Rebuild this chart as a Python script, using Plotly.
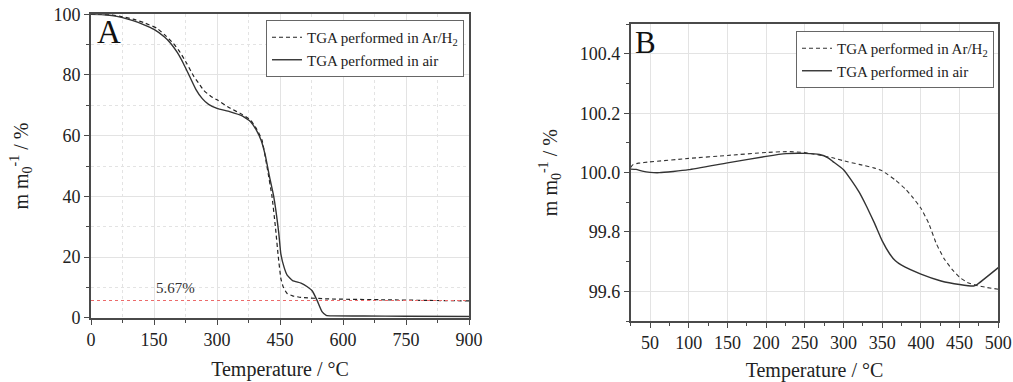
import plotly.graph_objects as go

# ---------------- Panel A data ----------------
a_air_x = [0, 25, 50, 75, 100, 125, 150, 175, 190, 205, 220, 235, 250, 265, 280, 300, 330, 360, 380,
           395, 405, 415, 425, 435, 447, 452, 460, 467, 480, 500, 515, 527, 538, 550, 560, 575, 650, 750, 900]
a_air_y = [100, 99.95, 99.6, 98.9, 97.9, 96.6, 95.0, 92.5, 90.4, 87.5, 83.8, 79.5, 75.2, 72.2, 70.3, 69.0,
           67.9, 66.5, 64.6, 61.5, 58.5, 53.5, 46.5, 40.0, 28.0, 21.0, 16.5, 14.0, 12.2, 11.4, 10.2, 8.8,
           5.8, 2.0, 0.8, 0.6, 0.55, 0.5, 0.4]

a_arh_x = [0, 25, 50, 75, 100, 125, 157, 175, 196, 212, 228, 245, 258, 268, 285, 300, 332, 360, 380,
           395, 407, 419, 431, 439, 446, 452, 458, 467, 480, 500, 563, 700, 800, 900]
a_arh_y = [100, 99.97, 99.8, 99.2, 98.4, 97.3, 95.4, 93.3, 90.4, 87.5, 83.8, 79.5, 77.0, 75.0, 73.0, 71.8,
           69.0, 67.0, 65.1, 62.0, 58.6, 49.8, 39.9, 30.0, 20.0, 13.0, 10.0, 8.0, 7.2, 6.7, 6.2, 5.9, 5.7, 5.55]

residue_x = [0, 900]
residue_y = [5.67, 5.67]

# ---------------- Panel B data ----------------
b_air_x = [25, 32, 40, 50, 62, 80, 100, 150, 200, 226, 250, 269, 280, 286, 300, 310, 320, 330, 340, 350,
           360, 367, 375, 400, 426, 450, 468, 472, 500]
b_air_y = [100.012, 100.011, 100.005, 100.001, 100.0, 100.004, 100.010, 100.033, 100.055, 100.064, 100.065,
           100.061, 100.05, 100.038, 100.01, 99.975, 99.935, 99.885, 99.83, 99.77, 99.725, 99.703, 99.688,
           99.658, 99.635, 99.623, 99.618, 99.622, 99.68]

b_arh_x = [25, 28, 35, 49, 100, 150, 200, 226, 250, 286, 300, 320, 339, 350, 367, 380, 390, 400, 410, 420,
           430, 440, 450, 460, 472, 485, 500]
b_arh_y = [100.018, 100.027, 100.032, 100.036, 100.048, 100.058, 100.068, 100.071, 100.068, 100.05, 100.04,
           100.028, 100.016, 100.006, 99.975, 99.945, 99.915, 99.88, 99.83, 99.76, 99.71, 99.675, 99.647,
           99.63, 99.62, 99.613, 99.607]

name_arh = "TGA performed in Ar/H<sub>2</sub>"
name_air = "TGA performed in air"

FONT = "Liberation Serif"
LINE = "#333333"
DASH = "4px,3px"

fig = go.Figure()

fig.add_trace(go.Scatter(x=a_arh_x, y=a_arh_y, mode="lines", name=name_arh,
                         line=dict(color="#222222", width=1.2, dash=DASH, shape="spline", smoothing=0.4),
                         xaxis="x", yaxis="y", legend="legend"))
fig.add_trace(go.Scatter(x=a_air_x, y=a_air_y, mode="lines", name=name_air,
                         line=dict(color=LINE, width=1.4, shape="spline", smoothing=0.4),
                         xaxis="x", yaxis="y", legend="legend"))
fig.add_trace(go.Scatter(x=residue_x, y=residue_y, mode="lines", showlegend=False,
                         line=dict(color="#ec6a6a", width=1.2, dash="dot"),
                         xaxis="x", yaxis="y"))

fig.add_trace(go.Scatter(x=b_arh_x, y=b_arh_y, mode="lines", name=name_arh,
                         line=dict(color="#333333", width=1.1, dash=DASH, shape="spline", smoothing=0.4),
                         xaxis="x2", yaxis="y2", legend="legend2"))
fig.add_trace(go.Scatter(x=b_air_x, y=b_air_y, mode="lines", name=name_air,
                         line=dict(color=LINE, width=1.4, shape="spline", smoothing=0.4),
                         xaxis="x2", yaxis="y2", legend="legend2"))

W, H = 1013, 382

axis_common = dict(showline=True, mirror=True, linecolor="#4a4a4a", linewidth=1.6,
                   ticks="outside", ticklen=5, tickwidth=1.3, tickcolor="#4a4a4a",
                   tickfont=dict(family=FONT, size=18, color="#222222"),
                   showgrid=True, gridcolor="#e3e3e3", gridwidth=1, zeroline=False,
                   automargin=False)

title_font = dict(family=FONT, size=20, color="#222222")

fig.update_layout(
    width=W, height=H,
    margin=dict(l=0, r=0, t=0, b=0),
    paper_bgcolor="white", plot_bgcolor="white",
    font=dict(family=FONT, color="#222222"),
    xaxis=dict(axis_common, domain=[91 / W, 469 / W], range=[0, 900],
               tickvals=[0, 150, 300, 450, 600, 750, 900],
               minor=dict(dtick=75, tick0=0, ticks="outside", ticklen=3, tickcolor="#4a4a4a",
                          showgrid=True, gridcolor="#e3e3e3", griddash="dot"),
               title=dict(text="Temperature / °C", font=title_font, standoff=13),
               anchor="y"),
    yaxis=dict(axis_common, domain=[(H - 317.7) / H, (H - 14.3) / H], range=[0, 100],
               tickvals=[0, 20, 40, 60, 80, 100],
               minor=dict(dtick=10, tick0=0, ticks="outside", ticklen=3, tickcolor="#4a4a4a",
                          showgrid=True, gridcolor="#e3e3e3", griddash="dot"),
               title=dict(text="m m<sub>0</sub><sup>-1</sup> / %", font=title_font, standoff=20),
               anchor="x"),
    xaxis2=dict(axis_common, domain=[630.7 / W, 998.3 / W], range=[25, 500],
                tickvals=[50, 100, 150, 200, 250, 300, 350, 400, 450, 500],
                minor=dict(dtick=25, tick0=0, ticks="outside", ticklen=3, tickcolor="#4a4a4a",
                           showgrid=False),
                title=dict(text="Temperature / °C", font=title_font, standoff=13),
                anchor="y2"),
    yaxis2=dict(axis_common, domain=[(H - 321) / H, (H - 24.3) / H], range=[99.5, 100.5],
                tickvals=[99.6, 99.8, 100.0, 100.2, 100.4], tickformat=".1f",
                minor=dict(dtick=0.1, tick0=0, ticks="outside", ticklen=3, tickcolor="#4a4a4a",
                           showgrid=False),
                title=dict(text="m m<sub>0</sub><sup>-1</sup> / %", font=title_font, standoff=17),
                anchor="x2"),
    legend=dict(x=464 / W, y=(H - 20) / H, xanchor="right", yanchor="top",
                bgcolor="white", bordercolor="#666666", borderwidth=1,
                font=dict(family=FONT, size=15, color="#222222"),
                tracegroupgap=0, itemwidth=30),
    legend2=dict(x=994 / W, y=(H - 31) / H, xanchor="right", yanchor="top",
                 bgcolor="white", bordercolor="#666666", borderwidth=1,
                 font=dict(family=FONT, size=15, color="#222222"),
                 tracegroupgap=0, itemwidth=30),
    annotations=[
        dict(text="A", x=95 / W, y=(H - 52) / H, xref="paper", yref="paper",
             xanchor="left", yanchor="bottom", showarrow=False,
             font=dict(family=FONT, size=33, color="#111111")),
        dict(text="B", x=633 / W, y=(H - 62) / H, xref="paper", yref="paper",
             xanchor="left", yanchor="bottom", showarrow=False,
             font=dict(family=FONT, size=31, color="#111111")),
        dict(text="5.67%", x=200, y=9.8, xref="x", yref="y", showarrow=False,
             font=dict(family=FONT, size=15, color="#333333")),
    ],
)

fig.write_html("out.html")
